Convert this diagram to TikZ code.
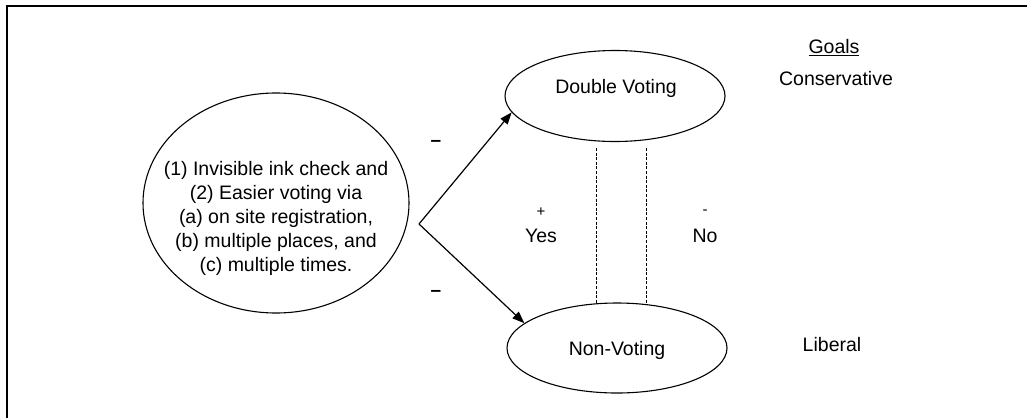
\documentclass[tikz,border=0pt]{standalone}
\usepackage{fontspec}
\setmainfont{Liberation Sans}
\usetikzlibrary{shapes.geometric,arrows.meta}
\begin{document}
\begin{tikzpicture}[x=1pt,y=-1pt,
  every node/.style={font=\fontsize{19.5}{24}\selectfont},
  oval/.style={draw,ellipse,line width=1.1pt,inner sep=0pt},
  txt/.style={inner sep=0pt,align=center},
  link/.style={line width=1.2pt,-{Triangle[length=12pt,width=9pt]}},
  dashlink/.style={line width=0.9pt,dash pattern=on 3pt off 1.6pt},
  bigsign/.style={inner sep=0pt,font=\fontsize{19}{20}\selectfont\bfseries},
  sign/.style={inner sep=0pt,font=\fontsize{15}{16}\selectfont}]
\useasboundingbox (0,0) rectangle (1027,418);
% frame (left and top edges)
\draw[line width=2pt] (7,418) -- (7,6) -- (1027,6);

% policy ellipse
\node[oval,minimum width=266pt,minimum height=220pt] (policy) at (276,203) {};
\node[txt] (policytext) at (276,218) {(1) Invisible ink check and\\(2) Easier voting via\\(a) on site registration,\\(b) multiple places, and\\(c) multiple times.};

% outcome ellipses
\node[oval,minimum width=220pt,minimum height=91pt] (dv) at (615,96) {};
\node[txt] (dvtext) at (616,88) {Double Voting};
\node[oval,minimum width=220pt,minimum height=90pt] (nv) at (617,348) {};
\node[txt] (nvtext) at (617,350) {Non-Voting};

% branching arrows
\coordinate (apex) at (419,224);
\draw[link] (apex) -- (dv.189);
\draw[link] (apex) -- (nv.165);
\node[bigsign] (m1) at (436,143) {--};
\node[bigsign] (m2) at (436,293) {--};

% dashed links between outcomes
\coordinate (d1) at (596,148);
\coordinate (d2) at (646,148);
\coordinate (e1) at (596,304);
\coordinate (e2) at (646,305);
\draw[dashlink] (d1) -- (e1);
\draw[dashlink] (d2) -- (e2);
\node[sign] (plus) at (541,212) {+};
\node[txt] (yes) at (541,236) {Yes};
\node[sign] (minus) at (705,212) {-};
\node[txt] (no) at (705,236) {No};

% goals column
\node[txt] (goals) at (834,48) {\underline{Goals}};
\node[txt] (cons) at (836,79) {Conservative};
\node[txt] (lib) at (832,345) {Liberal};
\end{tikzpicture}
\end{document}
